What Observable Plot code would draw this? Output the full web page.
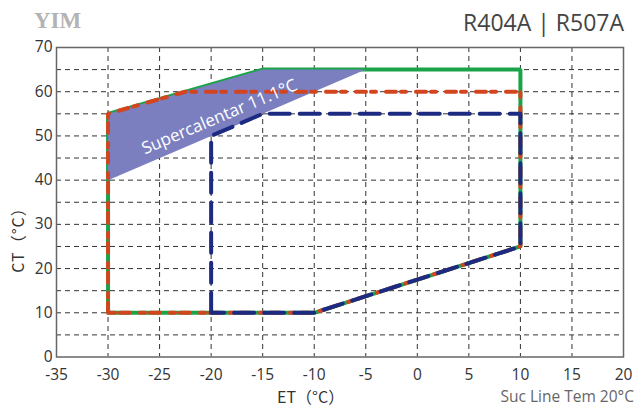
<!DOCTYPE html>
<html><head><meta charset="utf-8">
<script src="https://cdn.jsdelivr.net/npm/d3@7"></script>
<script src="https://cdn.jsdelivr.net/npm/@observablehq/plot@0.6"></script>
<style>
body{margin:0;background:#fff;}
#wrap{position:relative;width:635px;height:407px;overflow:hidden;}
.lbl{position:absolute;white-space:nowrap;line-height:1;}
</style></head>
<body><div id="wrap"></div>
<script>
// Envelope data (ET °C, CT °C)
const greenET = [-30, -30, -15, 10, 10, -10, -30];
const greenCT = [10, 55, 65, 65, 25, 10, 10];
const redET = [-30, -30, -22.5, 10, 10, -10, -30];
const redCT = [10, 55, 60, 60, 25, 10, 10];
const blueET = [-20, -20, -15, 10, 10, -10, -20];
const blueCT = [10, 50, 55, 55, 25, 10, 10];
const superET = [-30, -15, -5, -30, -30];
const superCT = [55, 65, 65, 40, 55];
const superLabel = "Supercalentar 11.1°C";
const xTicks = [-35, -30, -25, -20, -15, -10, -5, 0, 5, 10, 15, 20];
const yTicks = [0, 10, 20, 30, 40, 50, 60, 70];
const xGrid = [-30, -25, -20, -15, -10, -5, 0, 5, 10, 15];
const yGrid = [5, 10, 15, 20, 25, 30, 35, 40, 45, 50, 55, 60, 65];

const pts = (xs, ys) => xs.map((x, i) => ({x, y: ys[i]}));

const chart = Plot.plot({
  width: 635, height: 407,
  marginLeft: 56, marginRight: 12, marginTop: 47, marginBottom: 50.5,
  style: {fontFamily: "'Open Sans', sans-serif", fontSize: "15.5px", color: "#333", background: "#fff"},
  x: {domain: [-35, 20]},
  y: {domain: [0, 70]},
  marks: [
    Plot.gridX(xGrid, {stroke: "#333", strokeOpacity: 1, strokeWidth: 1, strokeDasharray: "5,4"}),
    Plot.gridY(yGrid, {stroke: "#333", strokeOpacity: 1, strokeWidth: 1, strokeDasharray: "5,4"}),
    Plot.line(pts(greenET, greenCT), {x: "x", y: "y", stroke: "#1ba34a", strokeWidth: 4, strokeLinejoin: "miter"}),
    Plot.line(pts(superET, superCT), {x: "x", y: "y", fill: "#7b7fc0", stroke: "none"}),
    Plot.line(pts(redET, redCT), {x: "x", y: "y", stroke: "#d2451e", strokeWidth: 4, strokeDasharray: "10,5,5,10"}),
    Plot.line(pts(blueET, blueCT), {x: "x", y: "y", stroke: "#1c2a82", strokeWidth: 4, strokeDasharray: "20,10"}),
    Plot.text([superLabel], {x: () => -19.2, y: () => 54.3, text: d => d, rotate: -23, fill: "white", fontSize: 17, fontFamily: "'Open Sans', sans-serif"}),
    Plot.axisX(xTicks, {tickSize: 0, tickPadding: 12, label: null, fill: "#333", tickFormat: d => String(d)}),
    Plot.axisY(yTicks, {tickSize: 0, tickPadding: 4, label: null, fill: "#333", tickFormat: d => String(d)}),
    Plot.frame({stroke: "#666", strokeWidth: 1.5})
  ]
});
const wrap = document.getElementById("wrap");
wrap.appendChild(chart);

function addLabel(text, css) {
  const d = document.createElement("div");
  d.className = "lbl";
  d.textContent = text;
  Object.assign(d.style, css);
  wrap.appendChild(d);
}
addLabel("YIM", {left: "34px", top: "8px", font: "bold 23px 'Liberation Serif', serif", color: "#b3b3b3"});
addLabel("R404A | R507A", {right: "11px", top: "6px", font: "23px 'Open Sans', sans-serif", color: "#444"});
addLabel("Suc Line Tem 20°C", {right: "1px", top: "385px", font: "15.5px 'Open Sans', sans-serif", color: "#666"});
addLabel("ET（°C）", {left: "277px", top: "384px", font: "16px 'Noto Sans CJK SC', sans-serif", color: "#333"});
addLabel("CT（°C）", {left: "-20px", top: "224px", font: "16px 'Noto Sans CJK SC', sans-serif", color: "#333", transform: "rotate(-90deg)", letterSpacing: "1px"});
</script></body></html>
